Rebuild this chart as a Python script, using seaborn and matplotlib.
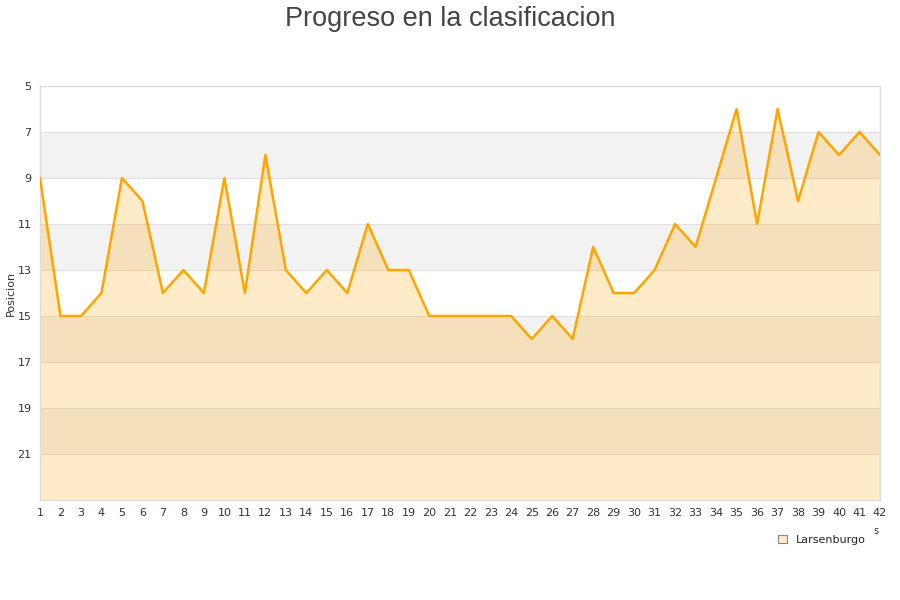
import matplotlib
matplotlib.use("Agg")
import matplotlib.pyplot as plt
import seaborn as sns
import pandas as pd
from matplotlib.patches import Patch

jornadas = list(range(1, 43))
posicion = [9, 15, 15, 14, 9, 10, 14, 13, 14, 9, 14, 8, 13, 14, 13, 14, 11, 13, 13, 15,
            15, 15, 15, 15, 16, 15, 16, 12, 14, 14, 13, 11, 12, 9, 6, 11, 6, 10, 7, 8, 7, 8]
equipo = "Larsenburgo"
titulo = "Progreso en la clasificacion"
ylabel = "Posicion"
yticks = [5, 7, 9, 11, 13, 15, 17, 19, 21]

df = pd.DataFrame({"Jornada": jornadas, "Posicion": posicion})

sns.set_style("white")
plt.rcParams['font.family'] = ['DejaVu Sans']

fig = plt.figure(figsize=(9, 6), dpi=100)
ax = fig.add_axes([40/900, 1-500/600, 840/900, 414/600])

for lo in [7, 11, 15, 19]:
    ax.axhspan(lo, lo + 2, color="#F2F2F2", zorder=0, lw=0)
for t in yticks[1:]:
    ax.axhline(t, color="#E0E0E0", lw=0.8, zorder=0.5)

ax.fill_between(df["Jornada"], df["Posicion"], 23, color="#FFA500", alpha=0.22, lw=0, zorder=1)
sns.lineplot(data=df, x="Jornada", y="Posicion", ax=ax, color="#FFA500", lw=1.8, zorder=3)

ax.set_xlim(1, 42)
ax.set_ylim(23, 5)
ax.set_yticks(yticks)
ax.set_xticks(jornadas)
ax.tick_params(axis="both", labelsize=8, colors="#333333", length=0, pad=6)
ax.set_xlabel("")
ax.set_ylabel(ylabel, fontsize=8, color="#333333")
ax.yaxis.set_label_coords(-24/840, 0.5)
for s in ax.spines.values():
    s.set_color("#DDDDDD")
    s.set_linewidth(1)

fig.text(0.5, 0.99, titulo, ha="center", va="top", fontsize=19.5, color="#444444",
         family="Liberation Sans")
fig.text(876/900, 1-531/600, "s", ha="center", va="center", fontsize=7, color="#333333")

handle = Patch(facecolor="#FFEBC6", edgecolor="#888888", lw=0.8, label=equipo)
fig.legend(handles=[handle], loc="center", bbox_to_anchor=(0.913, 0.1), frameon=False,
           fontsize=8, handlelength=0.8, handleheight=0.8, handletextpad=0.8)

fig.savefig("out.png", dpi=100)
